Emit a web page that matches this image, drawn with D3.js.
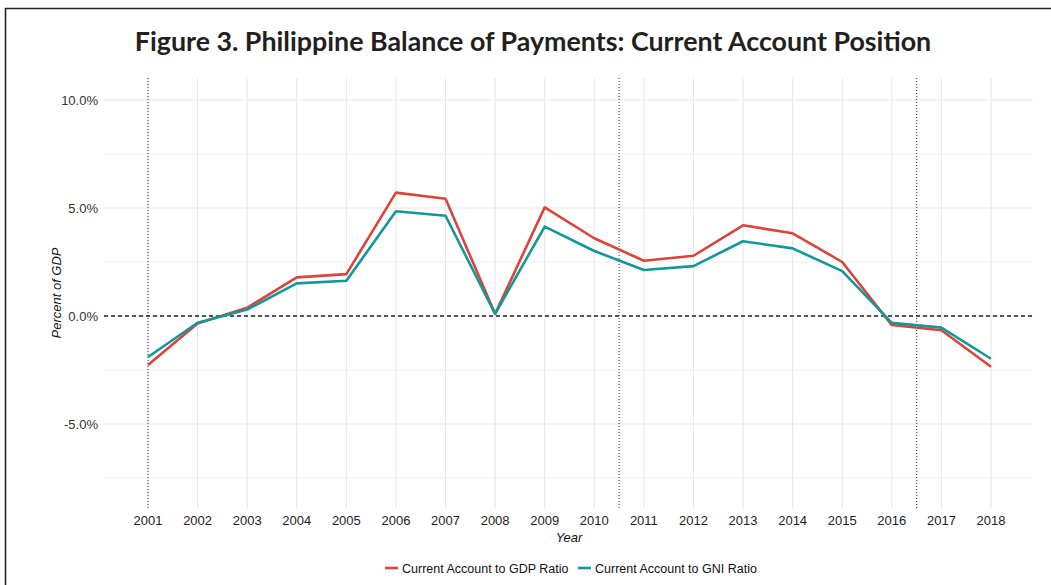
<!DOCTYPE html>
<html><head><meta charset="utf-8">
<script src="https://cdn.jsdelivr.net/npm/d3@7"></script>
<style>body{margin:0;background:#fff}svg{display:block}</style>
</head><body>
<svg id="c" width="1051" height="585"></svg>
<script>
const years = [2001,2002,2003,2004,2005,2006,2007,2008,2009,2010,2011,2012,2013,2014,2015,2016,2017,2018];
const gdpRatio = [-2.27,-0.35,0.38,1.79,1.94,5.71,5.43,0.1,5.03,3.6,2.56,2.79,4.2,3.83,2.5,-0.42,-0.66,-2.35];
const gniRatio = [-1.9,-0.31,0.3,1.51,1.63,4.85,4.64,0.1,4.14,3.01,2.13,2.31,3.46,3.13,2.08,-0.32,-0.54,-1.98];
const yMajor = [-5,0,5,10];
const yMinor = [-7.5,-2.5,2.5,7.5];
const markerYears = [2001,2010.5,2016.5];
const seriesNames = ["Current Account to GDP Ratio","Current Account to GNI Ratio"];
const colors = ["#d9453b","#13979a"];
const title = "Figure 3. Philippine Balance of Payments: Current Account Position";

const svg = d3.select("#c");
const P = {l:104, r:1033, t:78, b:508};
const x = d3.scaleLinear().domain([2001,2018]).range([148,991]);
const y = d3.scaleLinear().domain([-5,10]).range([424,100]);

// frame
svg.append("path").attr("d","M5.5,585 L5.5,8.5 L1051,8.5").attr("fill","none").attr("stroke","#222").attr("stroke-width",1.6);

// title
svg.append("text").attr("x",533).attr("y",51).attr("text-anchor","middle")
  .attr("font-family","Lato, 'Open Sans', sans-serif").attr("font-weight","bold").attr("font-size",26.8)
  .attr("fill","#231f20").text(title);

const g = svg.append("g");
// grid
g.selectAll("line.ymin").data(yMinor).enter().append("line")
  .attr("x1",P.l).attr("x2",P.r).attr("y1",d=>y(d)).attr("y2",d=>y(d))
  .attr("stroke","#eef0f0").attr("stroke-width",1);
g.selectAll("line.ymaj").data(yMajor).enter().append("line")
  .attr("x1",P.l).attr("x2",P.r).attr("y1",d=>y(d)).attr("y2",d=>y(d))
  .attr("stroke","#e6e9e9").attr("stroke-width",1.1);
g.selectAll("line.xg").data(years).enter().append("line")
  .attr("x1",d=>x(d)).attr("x2",d=>x(d)).attr("y1",P.t).attr("y2",P.b)
  .attr("stroke","#e6e9e9").attr("stroke-width",1.1);

// marker dotted lines
g.selectAll("line.mk").data(markerYears).enter().append("line")
  .attr("x1",d=>x(d)).attr("x2",d=>x(d)).attr("y1",P.t).attr("y2",P.b)
  .attr("stroke","#555").attr("stroke-width",1.2).attr("stroke-dasharray","1,2");

// zero line
g.append("line").attr("x1",P.l).attr("x2",P.r).attr("y1",y(0)).attr("y2",y(0))
  .attr("stroke","#222").attr("stroke-width",1.3).attr("stroke-dasharray","4,3");

// lines
const line = d3.line().x((d,i)=>x(years[i])).y(d=>y(d));
[gdpRatio,gniRatio].forEach((s,k)=>{
  g.append("path").attr("d",line(s)).attr("fill","none").attr("stroke",colors[k])
   .attr("stroke-width",2.6).attr("stroke-linejoin","round");
});

// axes labels
const fam = "'Liberation Sans', Arial, sans-serif";
svg.selectAll("text.yl").data(yMajor).enter().append("text")
  .attr("x",98).attr("y",d=>y(d)+4.5).attr("text-anchor","end")
  .attr("font-family",fam).attr("font-size",13).attr("fill","#333")
  .text(d=>d3.format(".1f")(d).replace("\u2212","-")+"%");
svg.selectAll("text.xl").data(years).enter().append("text")
  .attr("x",d=>x(d)).attr("y",525).attr("text-anchor","middle")
  .attr("font-family",fam).attr("font-size",13).attr("fill","#222").text(d=>d);
svg.append("text").attr("x",569).attr("y",541.5).attr("text-anchor","middle")
  .attr("font-family",fam).attr("font-size",13).attr("font-style","italic").attr("fill","#111").text("Year");
svg.append("text").attr("transform","translate(61,293) rotate(-90)").attr("text-anchor","middle")
  .attr("font-family",fam).attr("font-size",13).attr("font-style","italic").attr("fill","#111").text("Percent of GDP");

// legend
const lx = [385,578];
seriesNames.forEach((n,k)=>{
  svg.append("line").attr("x1",lx[k]).attr("x2",lx[k]+13).attr("y1",568).attr("y2",568)
    .attr("stroke",colors[k]).attr("stroke-width",2.6);
  svg.append("text").attr("x",lx[k]+17).attr("y",572.5).attr("font-family",fam).attr("font-size",12.5)
    .attr("fill","#111").text(n);
});
</script>
</body></html>
